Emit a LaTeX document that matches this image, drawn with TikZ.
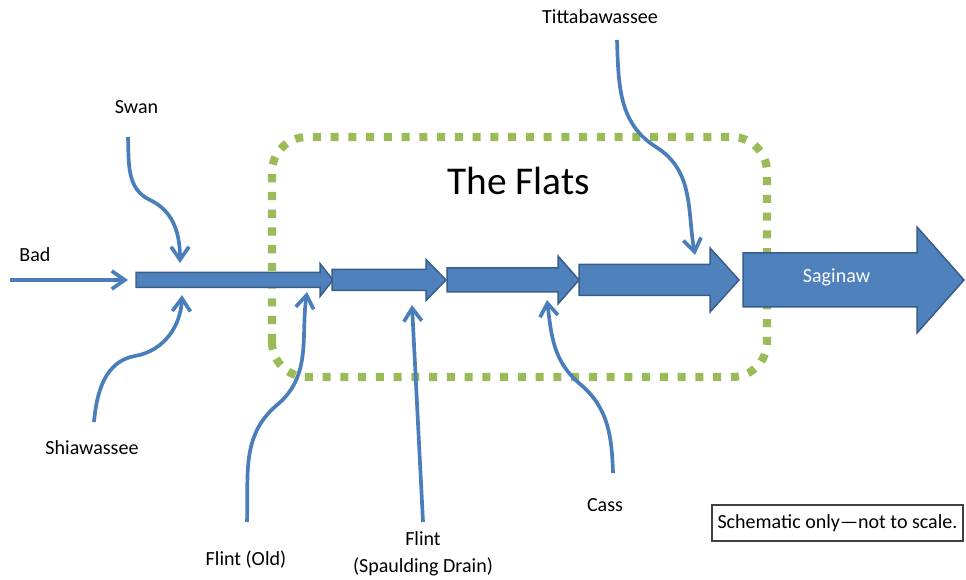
\documentclass[tikz,border=0pt]{standalone}
\usepackage{fontspec}
\setmainfont{Carlito}
\usepackage{tikz}
\usetikzlibrary{arrows.meta}

\definecolor{riverblue}{HTML}{4F81BD}
\definecolor{riveredge}{HTML}{385D8A}
\definecolor{feederblue}{HTML}{4A7EBB}
\definecolor{flatsgreen}{HTML}{9BBB59}

\tikzset{
	channel/.style={fill=riverblue, draw=riveredge, line width=0.85pt, line join=miter},
	feeder/.style={draw=feederblue, line width=2.1pt, -{Straight Barb[length=2.6mm,width=3.6mm]}},
	river/.style={font=\fontsize{11.4}{15.4}\selectfont, text=black, align=center},
}

\begin{document}
\begin{tikzpicture}
	\useasboundingbox (0,0) rectangle (19.32,11.58);

	% the flats
	\draw[flatsgreen, line width=4.6pt, dash pattern=on 4.6pt off 5.5pt, rounded corners=0.7cm] (5.44,4.04) rectangle (15.34,8.84);

	% main stem
	\draw[channel] (2.72,5.83) -- (6.40,5.83) -- (6.40,5.65) -- (6.66,5.98) -- (6.40,6.31) -- (6.40,6.13) -- (2.72,6.13) -- cycle;
	\draw[channel] (6.64,5.77) -- (8.52,5.77) -- (8.52,5.57) -- (8.92,5.98) -- (8.52,6.39) -- (8.52,6.19) -- (6.64,6.19) -- cycle;
	\draw[channel] (8.94,5.74) -- (11.16,5.74) -- (11.16,5.50) -- (11.58,5.98) -- (11.16,6.46) -- (11.16,6.22) -- (8.94,6.22) -- cycle;
	\draw[channel] (11.58,5.67) -- (14.20,5.67) -- (14.20,5.34) -- (14.78,5.98) -- (14.20,6.62) -- (14.20,6.29) -- (11.58,6.29) -- cycle;
	\draw[channel] (14.86,5.44) -- (18.34,5.44) -- (18.34,4.92) -- (19.28,5.98) -- (18.34,7.04) -- (18.34,6.52) -- (14.86,6.52) -- cycle;

	\node[river, text=white] (saginaw) at (16.73,6.04) {Saginaw};

	% tributaries
	\node[river] (bad) at (0.70,6.48) {Bad};
	\node[river] (swan) at (2.73,9.44) {Swan};
	\node[river] (shiawassee) at (1.84,2.62) {Shiawassee};
	\node[river] (flintold) at (4.92,0.38) {Flint (Old)};
	\node[river] (flintdrain) at (8.46,0.51) {Flint\\(Spaulding Drain)};
	\node[river] (cass) at (12.10,1.48) {Cass};
	\node[river] (titta) at (12.00,11.24) {Tittabawassee};

	\coordinate (badsrc) at (0.20,5.98);
	\coordinate (badmouth) at (2.56,5.98);
	\coordinate (swansrc) at (2.56,8.84);
	\coordinate (swanmouth) at (3.60,6.32);
	\coordinate (shiasrc) at (1.88,3.14);
	\coordinate (shiamouth) at (3.64,5.68);
	\coordinate (oldsrc) at (4.94,1.14);
	\coordinate (oldmouth) at (6.14,5.74);
	\coordinate (drainsrc) at (8.46,1.14);
	\coordinate (drainmouth) at (8.24,5.48);
	\coordinate (casssrc) at (12.26,2.12);
	\coordinate (cassmouth) at (10.94,5.58);
	\coordinate (tittasrc) at (12.34,10.78);
	\coordinate (tittamouth) at (13.90,6.48);

	\draw[feeder] (badsrc) -- (badmouth);
	\draw[feeder] (swansrc) to[out=-88,in=155] (3.00,7.58) to[out=-25,in=90] (swanmouth);
	\draw[feeder] (shiasrc) to[out=85,in=190] (2.70,4.46) to[out=10,in=-92] (shiamouth);
	\draw[feeder] (oldsrc) to[out=88,in=-140] (5.54,3.48) to[out=40,in=-98] (oldmouth);
	\draw[feeder] (drainsrc) -- (drainmouth);
	\draw[feeder] (casssrc) to[out=92,in=-40] (11.60,3.90) to[out=140,in=-83] (cassmouth);
	\draw[feeder] (tittasrc) to[out=-88,in=148] (13.12,8.64) to[out=-32,in=100] (tittamouth);

	\node[font=\fontsize{22.4}{26}\selectfont] (flats) at (10.37,7.96) {The Flats};

	\node[river, draw=black!75, line width=0.85pt, minimum width=5.02cm, minimum height=0.72cm, inner sep=0pt] (note) at (16.75,1.12) {Schematic only---not to scale.};
\end{tikzpicture}
\end{document}
